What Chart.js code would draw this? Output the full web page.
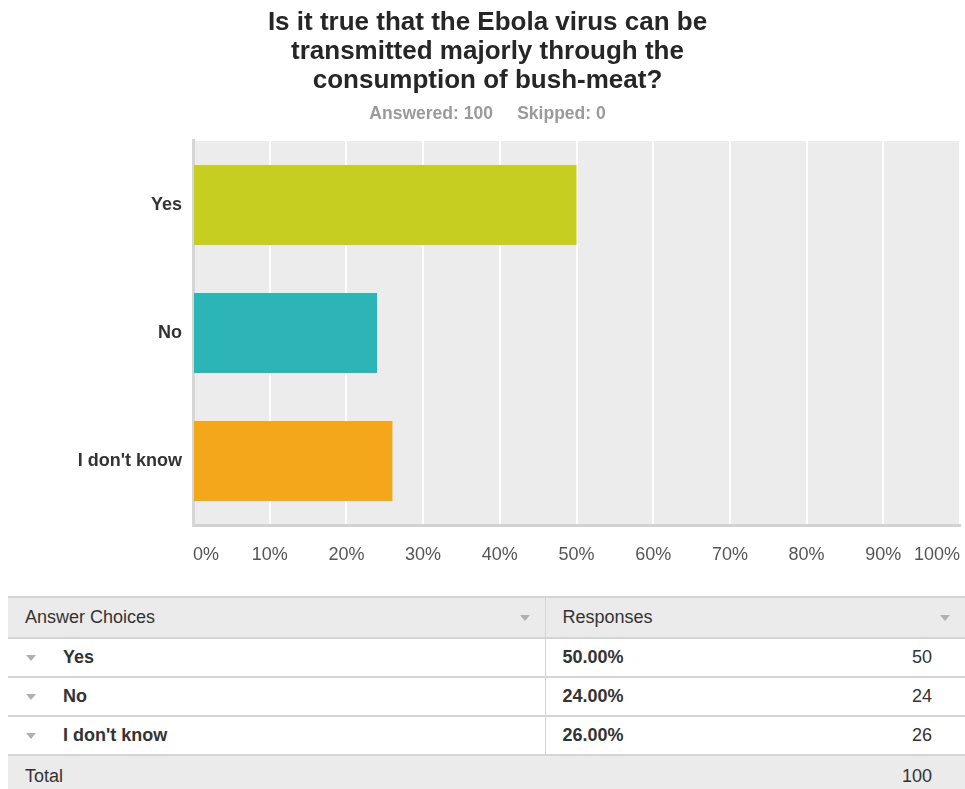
<!DOCTYPE html>
<html>
<head>
<meta charset="utf-8">
<script src="https://cdn.jsdelivr.net/npm/chart.js@4.4.1/dist/chart.umd.min.js"></script>
<style>
  html, body { margin: 0; padding: 0; background: #fff; }
  #wrap { position: relative; width: 965px; height: 789px; overflow: hidden; }
  #chart { position: absolute; left: 0; top: 0; }
  #summary {
    position: absolute; left: 8px; top: 596px; width: 957px;
    border-collapse: collapse; table-layout: fixed;
    font-family: "Liberation Sans", Arial, sans-serif; font-size: 18px; color: #333;
  }
  #summary td { padding: 0; border-top: 2px solid #d4d4d4; height: 37px; vertical-align: middle; }
  #summary thead td { background: #ebebeb; height: 39px; }
  #summary td.c2 { border-left: 1px solid #d4d4d4; }
  #summary tr.total td { background: #ebebeb; height: 40px; }
  .cell { display: flex; align-items: center; justify-content: space-between; }
  .tri { width: 0; height: 0; border-left: 5px solid transparent; border-right: 5px solid transparent; border-top: 6px solid #b0b0b0; }
  .lbl { font-weight: bold; }
</style>
</head>
<body>
<div id="wrap">
  <canvas id="chart" width="965" height="590"></canvas>
  <table id="summary">
    <colgroup><col style="width:537px"><col style="width:420px"></colgroup>
    <thead></thead>
    <tbody></tbody>
  </table>
</div>
<script>
// data
const titleLines = [
  "Is it true that the Ebola virus can be",
  "transmitted majorly through the",
  "consumption of bush-meat?"
];
const answered = 100;
const skipped = 0;
const categories = ["Yes", "No", "I don't know"];
const percents = [50, 24, 26];
const counts = [50, 24, 26];
const barColors = ["#c6cf21", "#2db4b6", "#f5a71c"];
const headers = ["Answer Choices", "Responses"];

// grey plot background
const plotBg = {
  id: "plotBg",
  beforeDraw(chart) {
    const a = chart.chartArea;
    const ctx = chart.ctx;
    ctx.save();
    ctx.fillStyle = "#ececec";
    ctx.fillRect(a.left, a.top, a.right - a.left, a.bottom - a.top);
    ctx.restore();
  }
};

new Chart(document.getElementById("chart"), {
  type: "bar",
  data: {
    labels: categories,
    datasets: [{
      data: percents,
      backgroundColor: barColors,
      borderWidth: 0,
      barPercentage: 0.625,
      categoryPercentage: 1
    }]
  },
  options: {
    indexAxis: "y",
    responsive: false,
    animation: false,
    layout: { padding: { left: 15, right: 5, top: 0, bottom: 0 } },
    plugins: {
      legend: { display: false },
      tooltip: { enabled: false },
      title: {
        display: true,
        text: titleLines,
        color: "#262626",
        font: { family: "Liberation Sans", size: 26, weight: "bold", lineHeight: 1.115 },
        padding: { top: 8, bottom: 9 }
      },
      subtitle: {
        display: true,
        text: "Answered: " + answered + "     Skipped: " + skipped,
        color: "#9a9a9a",
        font: { family: "Liberation Sans", size: 17.5, weight: "bold", lineHeight: 1.2 },
        padding: { top: 0, bottom: 16 }
      }
    },
    scales: {
      x: {
        min: 0,
        max: 100,
        ticks: {
          stepSize: 10,
          callback: v => v + "%",
          align: "inner",
          padding: 19,
          color: "#555",
          font: { family: "Liberation Sans", size: 18 }
        },
        grid: {
          color: ctx => ctx.index === 0 ? "rgba(0,0,0,0)" : "#ffffff",
          lineWidth: 2,
          drawTicks: false
        },
        border: { display: true, color: "#d2d2d2", width: 3 },
        afterFit: s => { s.height = 65; s.paddingLeft = 0; s.paddingRight = 0; }
      },
      y: {
        ticks: {
          padding: 11,
          color: "#333",
          font: { family: "Liberation Sans", size: 18, weight: "bold" }
        },
        grid: { display: false, drawTicks: false },
        border: { display: true, color: "#d6d6d6", width: 3 },
        afterFit: s => { s.width = 178; }
      }
    }
  },
  plugins: [plotBg]
});

// summary table
const thead = document.querySelector("#summary thead");
const tbody = document.querySelector("#summary tbody");

thead.innerHTML =
  `<tr><td><div class="cell" style="padding:0 15px 0 17px"><span>${headers[0]}</span><span class="tri"></span></div></td>` +
  `<td class="c2"><div class="cell" style="padding:0 15px 0 17px"><span>${headers[1]}</span><span class="tri"></span></div></td></tr>`;

categories.forEach((c, i) => {
  const tr = document.createElement("tr");
  tr.innerHTML =
    `<td><div class="cell" style="justify-content:flex-start;padding-left:18px"><span class="tri"></span><span class="lbl" style="margin-left:27px">${c}</span></div></td>` +
    `<td class="c2"><div class="cell" style="padding:0 33px 0 17px"><span class="lbl">${percents[i].toFixed(2)}%</span><span>${counts[i]}</span></div></td>`;
  tbody.appendChild(tr);
});

const total = counts.reduce((a, b) => a + b, 0);
const tr = document.createElement("tr");
tr.className = "total";
tr.innerHTML = `<td colspan="2"><div class="cell" style="padding:0 33px 0 17px"><span>Total</span><span>${total}</span></div></td>`;
tbody.appendChild(tr);
</script>
</body>
</html>
